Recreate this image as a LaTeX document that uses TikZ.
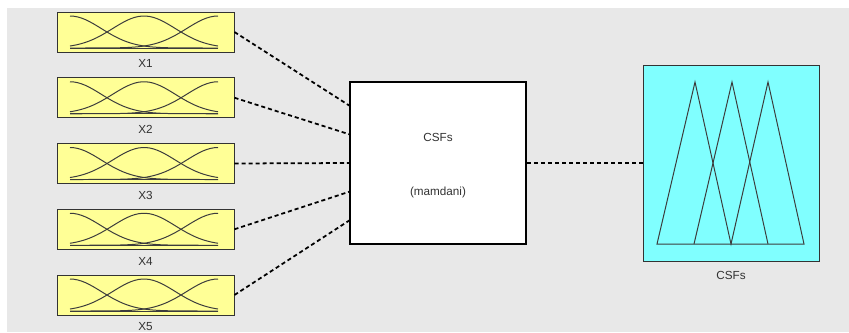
\documentclass[tikz,border=0pt]{standalone}
\usepackage{fontspec}
\setmainfont{Liberation Sans}
\usetikzlibrary{positioning}
\definecolor{fundo}{RGB}{232,232,232}
\definecolor{amarelo}{RGB}{255,255,150}
\definecolor{ciano}{RGB}{128,255,255}
\definecolor{texto}{RGB}{50,50,50}
\definecolor{curva}{RGB}{60,60,60}
\tikzset{
  entrada/.style={draw=black!80, fill=amarelo, line width=0.8pt, minimum width=5.31cm, minimum height=1.2cm, inner sep=0pt},
  rotulo/.style={text=texto, inner sep=0pt, font=\fontsize{10}{12}\selectfont},
  ligacao/.style={line width=1.5pt, dash pattern=on 3.5pt off 2.5pt},
  pert/.style={curva, line width=0.85pt},
}
\begin{document}
\begin{tikzpicture}[x=0.03cm,y=-0.03cm]
        \useasboundingbox (0,0) rectangle (849,332);
        % Fundo
        \fill[fundo] (7,8) rectangle (849,332);
        % Entradas X1 a X5
        \foreach \i in {1,...,5} {
            \pgfmathsetmacro{\c}{32+65.75*(\i-1)}
            \node[entrada] (x\i) at (145.5,\c) {};
            \node[rotulo, below=0.21cm of x\i] (lx\i) {X\i};
            % Funções de pertinência
            \draw[pert, domain=70:218, smooth, samples=40, variable=\x] plot ({\x},{\c+16-32*exp(-0.5*((\x-70)/31.4)^2)});
            \draw[pert, domain=70:218, smooth, samples=40, variable=\x] plot ({\x},{\c+16-32*exp(-0.5*((\x-144)/31.4)^2)});
            \draw[pert, domain=70:218, smooth, samples=40, variable=\x] plot ({\x},{\c+16-32*exp(-0.5*((\x-218)/31.4)^2)});
            \draw[pert] (70,\c+16) -- (218,\c+16);
        }
        % Sistema de inferência
        \node[draw=black, fill=white, line width=1.5pt, minimum width=5.28cm, minimum height=4.86cm] (fis) at (438,163) {};
        \node[rotulo] (nome) at (438,137) {CSFs};
        \node[rotulo] (tipo) at (438,192) {(mamdani)};
        % Saída
        \node[draw=black!80, fill=ciano, line width=0.8pt, minimum width=5.28cm, minimum height=5.88cm] (saida) at (731,163) {};
        \node[rotulo, below=0.3cm of saida] (lsaida) {CSFs};
        % Triângulos da saída
        \draw[pert] (657,244) -- (695,82) -- (731,244) -- (768,82) -- (804,244) -- cycle;
        \draw[pert] (694,244) -- (732,82) -- (768,244);
        % Ligações
        \foreach \i in {1,...,5} {
            \coordinate (e\i) at (350,{163+28.5*(\i-3)});
            \draw[ligacao] (x\i.east) -- (e\i);
        }
        \draw[ligacao] (fis.east) -- (saida.west);
    \end{tikzpicture}
\end{document}
